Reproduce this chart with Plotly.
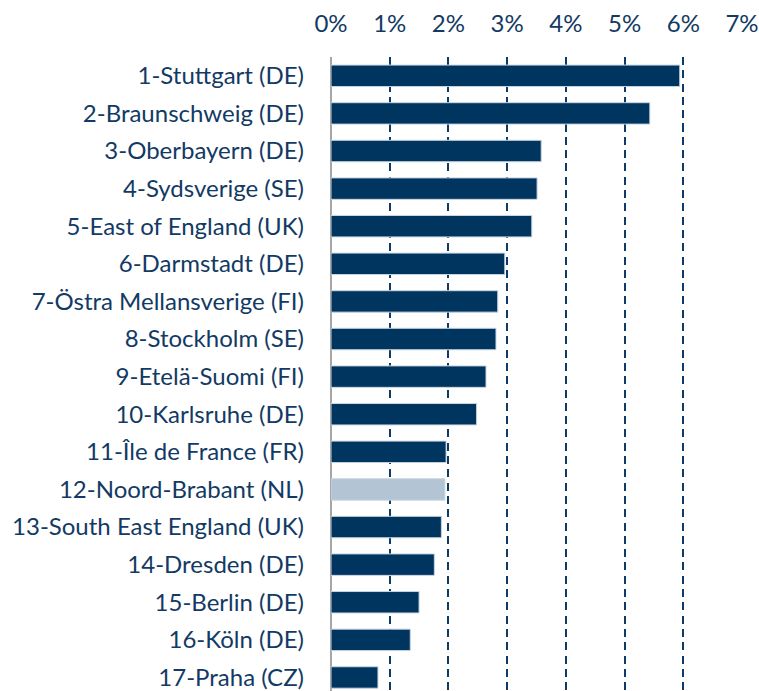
import plotly.graph_objects as go

regions = [
    "1-Stuttgart (DE)", "2-Braunschweig (DE)", "3-Oberbayern (DE)", "4-Sydsverige (SE)",
    "5-East of England (UK)", "6-Darmstadt (DE)", "7-Östra Mellansverige (FI)",
    "8-Stockholm (SE)", "9-Etelä-Suomi (FI)", "10-Karlsruhe (DE)", "11-Île de France (FR)",
    "12-Noord-Brabant (NL)", "13-South East England (UK)", "14-Dresden (DE)",
    "15-Berlin (DE)", "16-Köln (DE)", "17-Praha (CZ)",
]
shares = [5.94, 5.43, 3.58, 3.51, 3.42, 2.96, 2.84, 2.81, 2.64, 2.48, 1.96, 1.94, 1.88, 1.76, 1.50, 1.35, 0.80]
highlight = "12-Noord-Brabant (NL)"
tick_vals = [0, 1, 2, 3, 4, 5, 6, 7]
tick_text = ["0%", "1%", "2%", "3%", "4%", "5%", "6%", "7%"]

dark = "#00355F"
light = "#B3C5D4"
colors = [light if r == highlight else dark for r in regions]
text_color = "#123A64"

fig = go.Figure(go.Bar(
    x=shares, y=regions, orientation="h",
    marker=dict(color=colors, line=dict(color="#C8D5E2", width=1)),
    width=0.57,
))

fig.update_layout(
    width=759, height=691,
    margin=dict(l=331, r=17, t=57, b=0),
    paper_bgcolor="white", plot_bgcolor="white",
    showlegend=False,
    font=dict(family="Lato, 'Open Sans', sans-serif", color=text_color, size=24),
    xaxis=dict(
        side="top", range=[0, 7], tickvals=tick_vals, ticktext=tick_text,
        showgrid=True, gridcolor="#0D3A66", gridwidth=2, griddash="8px,5.3px",
        zeroline=True, zerolinecolor="#A6A6A6", zerolinewidth=2,
        showline=False, ticks="", ticklabelstandoff=19,
        tickfont=dict(size=24, color=text_color),
        automargin=False, fixedrange=True,
    ),
    yaxis=dict(
        type="category", categoryorder="array", categoryarray=regions,
        range=[16.36, -0.5], showgrid=False, zeroline=False, showline=False,
        ticks="", ticklabelstandoff=26,
        tickfont=dict(size=24, color=text_color),
        automargin=False, fixedrange=True,
    ),
)

html = fig.to_html(include_plotlyjs=True, full_html=True,
                   config={"displayModeBar": False, "staticPlot": True})
html = html.replace("<head>", "<head><style>html,body{margin:0;padding:0;overflow:hidden;}</style>", 1)
with open("out.html", "w", encoding="utf-8") as f:
    f.write(html)
